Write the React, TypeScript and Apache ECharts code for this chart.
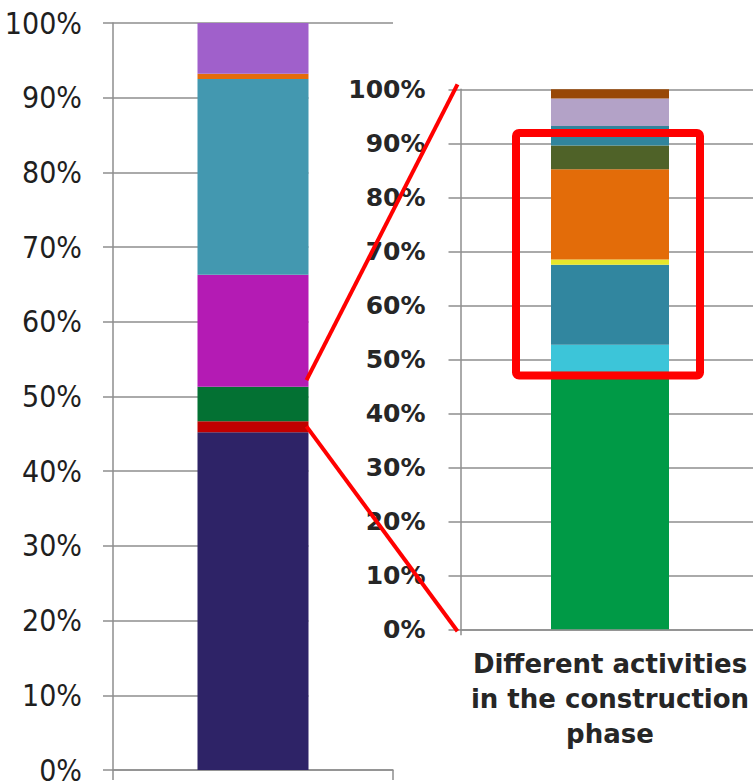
import React, { useEffect, useRef } from "react";
import * as echarts from "echarts";

// ---------- data ----------
const leftCategories = ["Whole life cycle"];
const leftNames = ["Stage A", "Stage B", "Construction phase", "Stage D", "Stage E", "Stage F", "Stage G"];
const leftValues = [45.2, 1.5, 4.6, 15.0, 26.2, 0.7, 6.8];
const leftColors = ["#2E2367", "#C00000", "#037133", "#B41BB4", "#4398B0", "#E46C0A", "#A060CB"];

const rightCategories = ["Different activities\nin the construction\nphase"];
const rightNames = [
  "Activity 1", "Activity 2", "Activity 3", "Activity 4", "Activity 5",
  "Activity 6", "Activity 7", "Activity 8", "Activity 9", "Activity 10",
];
const rightValues = [47.5, 0.3, 4.9, 14.8, 1.0, 16.7, 4.4, 3.6, 5.1, 1.7];
const rightColors = [
  "#009A46", "#1E9A86", "#3CC5D9", "#31869F", "#E6E62A",
  "#E36C09", "#4F6228", "#31859C", "#B3A2C7", "#984807",
];

const percentTicks = { min: 0, max: 100, interval: 10 };

// zoom annotation (values on the axes)
const zoomFromLeft = [46.0, 52.2]; // range on the left bar linked by the red lines
const highlightRange = [47.0, 91.9]; // red box on the right bar

// ---------- layout ----------
const W = 753;
const H = 782;
const LG = { left: 113, top: 23, width: 280, height: 747 };
const RG = { left: 460.5, top: 89.3, width: 299, height: 540 };
const LEFT_BAR_W = 111;
const RIGHT_BAR_W = 118;
const AXIS_COLOR = "#8E8E8E";

export default function App() {
  const ref = useRef<HTMLDivElement>(null);

  useEffect(() => {
    if (!ref.current) return;
    const chart = echarts.init(ref.current, undefined, { renderer: "svg" });

    const lineStyle = { color: AXIS_COLOR, width: 1.5 };

    const series: any[] = [];
    leftValues.forEach((v, i) => {
      series.push({
        type: "bar",
        name: leftNames[i],
        stack: "left",
        xAxisIndex: 0,
        yAxisIndex: 0,
        data: [v],
        barWidth: LEFT_BAR_W,
        itemStyle: { color: leftColors[i] },
        z: 8,
      });
    });
    rightValues.forEach((v, i) => {
      series.push({
        type: "bar",
        name: rightNames[i],
        stack: "right",
        xAxisIndex: 1,
        yAxisIndex: 1,
        data: [v],
        barWidth: RIGHT_BAR_W,
        itemStyle: { color: rightColors[i] },
        z: 8,
      });
    });

    const option: any = {
      animation: false,
      backgroundColor: "#ffffff",
      grid: [
        { left: LG.left, top: LG.top, width: LG.width, height: LG.height, outerBoundsMode: "none", containLabel: false },
        { left: RG.left, top: RG.top, width: RG.width, height: RG.height, outerBoundsMode: "none", containLabel: false },
      ],
      xAxis: [
        {
          type: "category",
          gridIndex: 0,
          data: leftCategories,
          axisLine: { show: true, lineStyle },
          axisTick: { show: true, length: 10, lineStyle },
          axisLabel: { show: false },
          z: 0,
        },
        {
          type: "category",
          gridIndex: 1,
          data: rightCategories,
          axisLine: { show: true, lineStyle },
          axisTick: { show: true, length: 6, lineStyle },
          axisLabel: {
            show: true,
            interval: 0,
            fontFamily: "DejaVu Sans",
            fontWeight: "bold",
            fontSize: 26,
            lineHeight: 35,
            color: "#262626",
            margin: 17,
            align: "center",
          },
          z: 6,
        },
      ],
      yAxis: [
        {
          type: "value",
          gridIndex: 0,
          ...percentTicks,
          axisLine: { show: true, lineStyle },
          axisTick: { show: true, length: 10, lineStyle },
          splitLine: { show: true, lineStyle },
          axisLabel: {
            formatter: "{value}%",
            fontFamily: "'Liberation Sans Narrow', 'DejaVu Sans Condensed', sans-serif",
            fontSize: 30,
            color: "#1F1F1F",
            margin: 31,
          },
          z: 0,
        },
        {
          type: "value",
          gridIndex: 1,
          ...percentTicks,
          axisLine: { show: true, lineStyle },
          axisTick: { show: true, length: 12, lineStyle },
          splitLine: { show: true, lineStyle },
          axisLabel: {
            formatter: "{value}%",
            fontFamily: "DejaVu Sans",
            fontWeight: "bold",
            fontSize: 25,
            color: "#262626",
            margin: 35,
          },
          z: 6,
        },
      ],
      series,
    };

    chart.setOption(option);

    // annotations computed through the axes
    const lLow = chart.convertToPixel({ gridIndex: 0 }, [leftCategories[0], zoomFromLeft[0]]) as number[];
    const lHigh = chart.convertToPixel({ gridIndex: 0 }, [leftCategories[0], zoomFromLeft[1]]) as number[];
    const r0 = chart.convertToPixel({ gridIndex: 1 }, [rightCategories[0], 0]) as number[];
    const r100 = chart.convertToPixel({ gridIndex: 1 }, [rightCategories[0], 100]) as number[];
    const hLow = chart.convertToPixel({ gridIndex: 1 }, [rightCategories[0], highlightRange[0]]) as number[];
    const hHigh = chart.convertToPixel({ gridIndex: 1 }, [rightCategories[0], highlightRange[1]]) as number[];

    const barRight = lLow[0] + LEFT_BAR_W / 2 - 2;
    const axisX = RG.left - 3;

    chart.setOption({
      graphic: {
        elements: [
          {
            type: "rect",
            z: 4,
            zlevel: 0,
            silent: true,
            shape: { x: barRight + 2, y: 40, width: W - barRight, height: 720 },
            style: { fill: "#ffffff", stroke: null },
          },
          {
            type: "line",
            z: 20,
            silent: true,
            shape: { x1: barRight, y1: lHigh[1], x2: axisX, y2: r100[1] - 5 },
            style: { stroke: "#FF0000", lineWidth: 4 },
          },
          {
            type: "line",
            z: 20,
            silent: true,
            shape: { x1: barRight, y1: lLow[1], x2: axisX, y2: r0[1] + 2 },
            style: { stroke: "#FF0000", lineWidth: 4 },
          },
          {
            type: "rect",
            z: 20,
            silent: true,
            shape: {
              x: r0[0] - 94,
              y: hHigh[1],
              width: 184,
              height: hLow[1] - hHigh[1],
              r: 3,
            },
            style: { fill: "none", stroke: "#FF0000", lineWidth: 8 },
          },
        ],
      },
    });

    return () => chart.dispose();
  }, []);

  return (
    <div
      ref={ref}
      style={{ position: "fixed", left: 0, top: 0, width: W, height: H, background: "#fff" }}
    />
  );
}
